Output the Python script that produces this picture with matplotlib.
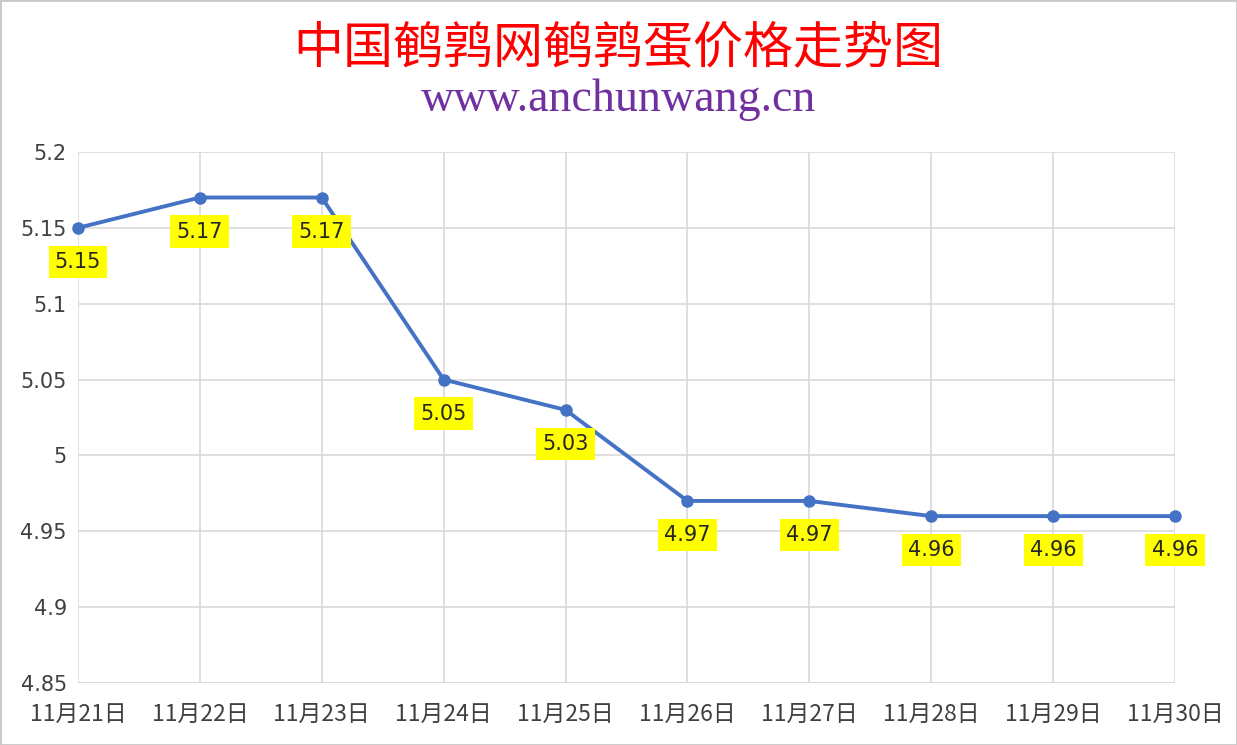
"""plot.py"""

import matplotlib.pyplot as plt
from matplotlib.patches import Rectangle

dates = ["11月21日", "11月22日", "11月23日", "11月24日", "11月25日",
         "11月26日", "11月27日", "11月28日", "11月29日", "11月30日"]
prices = [5.15, 5.17, 5.17, 5.05, 5.03, 4.97, 4.97, 4.96, 4.96, 4.96]
y_ticks = [4.85, 4.9, 4.95, 5.0, 5.05, 5.1, 5.15, 5.2]
y_tick_labels = ["4.85", "4.9", "4.95", "5", "5.05", "5.1", "5.15", "5.2"]

plt.rcParams["font.family"] = ["Noto Sans CJK SC", "DejaVu Sans"]

fig = plt.figure(figsize=(12.37, 7.45), dpi=100)
ax = fig.add_axes([78 / 1237, 1 - 683 / 745, (1175 - 78) / 1237, (683 - 152) / 745])

x = list(range(len(dates)))
ax.plot(x, prices, color="#4472C4", linewidth=2.8, marker="o",
        markersize=8, zorder=3, clip_on=False)

for xi, yi in zip(x, prices):
    ax.annotate(f"{yi:.2f}", (xi, yi), xytext=(0, -24.5),
                textcoords="offset points", ha="center", va="center",
                fontsize=15, color="#262626", family=["DejaVu Sans"],
                bbox=dict(boxstyle="square,pad=0.3", fc="#FFFF00", ec="none"),
                zorder=4)

ax.set_xlim(0, len(dates) - 1)
ax.set_ylim(4.85, 5.2)
ax.set_xticks(x)
ax.set_xticklabels(dates, fontsize=16.5, color="#404040")
ax.tick_params(axis="x", pad=14)
ax.set_yticks(y_ticks)
ax.set_yticklabels(y_tick_labels, fontsize=15, color="#404040",
                   family=["DejaVu Sans"])
ax.tick_params(length=0)
ax.tick_params(axis="y", pad=8)
ax.grid(True, color="#D9D9D9", linewidth=1.2)
ax.set_axisbelow(True)
for side in ax.spines.values():
    side.set_visible(False)
ax.axhline(4.85, color="#D9D9D9", linewidth=1.5, zorder=1)

fig.text(0.5, 1 - 48 / 745, "中国鹌鹑网鹌鹑蛋价格走势图", ha="center",
         va="center", fontsize=36, color="#FF0000")
fig.text(0.5, 1 - 100 / 745, "www.anchunwang.cn", ha="center", va="center",
         fontsize=33, color="#7030A0", family=["Liberation Serif"])

fig.patches.append(Rectangle((0, 0), 1, 1, transform=fig.transFigure,
                             fill=False, ec="#C8C8C8", lw=2))

fig.savefig("out.png", dpi=100)
